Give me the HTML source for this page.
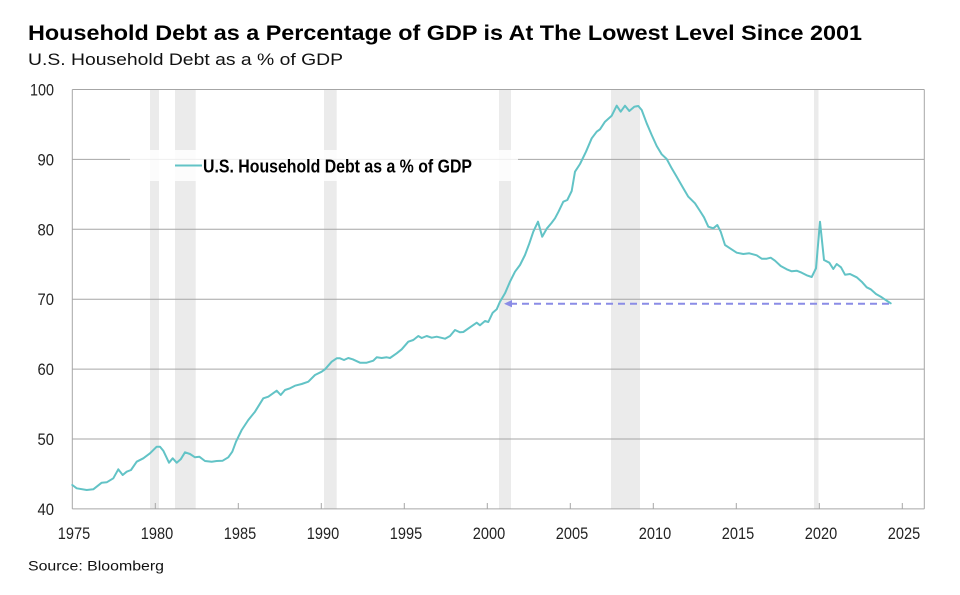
<!DOCTYPE html>
<html>
<head>
<meta charset="utf-8">
<style>
  html, body { margin:0; padding:0; background:#ffffff; }
  body { width:960px; height:595px; overflow:hidden; }
  svg { display:block; }
  .narrow { font-family: "Liberation Sans Narrow", "Liberation Sans", sans-serif; }
  .sans { font-family: "Liberation Sans", Arial, sans-serif; }
</style>
</head>
<body>
<svg width="960" height="595" viewBox="0 0 960 595" xmlns="http://www.w3.org/2000/svg">
  <rect x="0" y="0" width="960" height="595" fill="#ffffff"/>

  <!-- Title -->
  <text class="sans" x="28" y="40" font-size="21" font-weight="bold" fill="#000" textLength="834" lengthAdjust="spacingAndGlyphs">Household Debt as a Percentage of GDP is At The Lowest Level Since 2001</text>
  <text class="sans" x="28" y="65" font-size="17" fill="#111" textLength="315" lengthAdjust="spacingAndGlyphs">U.S. Household Debt as a % of GDP</text>

  <!-- Recession bands -->
  <g fill="#ebebeb">
    <rect x="150" y="90" width="9" height="419"/>
    <rect x="175" y="90" width="20.7" height="419"/>
    <rect x="324" y="90" width="12.7" height="419"/>
    <rect x="499" y="90" width="12" height="419"/>
    <rect x="611" y="90" width="29" height="419"/>
    <rect x="814" y="90" width="4.5" height="419"/>
  </g>

  <!-- Gridlines -->
  <g stroke="#a6a6a6" stroke-width="1" fill="none">
    <line x1="72.3" y1="89.5" x2="924.3" y2="89.5"/>
    <line x1="72.3" y1="159.4" x2="924.3" y2="159.4"/>
    <line x1="72.3" y1="229.3" x2="924.3" y2="229.3"/>
    <line x1="72.3" y1="299.2" x2="924.3" y2="299.2"/>
    <line x1="72.3" y1="369.1" x2="924.3" y2="369.1"/>
    <line x1="72.3" y1="439.0" x2="924.3" y2="439.0"/>
    <line x1="72.3" y1="508.9" x2="924.3" y2="508.9"/>
    <line x1="72.3" y1="89.5" x2="72.3" y2="508.9"/>
    <line x1="924.3" y1="89.5" x2="924.3" y2="508.9"/>
  </g>

  <!-- X ticks -->
  <g stroke="#a6a6a6" stroke-width="1">
    <line x1="155.3" y1="503" x2="155.3" y2="509"/>
    <line x1="238.3" y1="503" x2="238.3" y2="509"/>
    <line x1="321.3" y1="503" x2="321.3" y2="509"/>
    <line x1="404.3" y1="503" x2="404.3" y2="509"/>
    <line x1="487.3" y1="503" x2="487.3" y2="509"/>
    <line x1="570.3" y1="503" x2="570.3" y2="509"/>
    <line x1="653.3" y1="503" x2="653.3" y2="509"/>
    <line x1="736.3" y1="503" x2="736.3" y2="509"/>
    <line x1="819.3" y1="503" x2="819.3" y2="509"/>
    <line x1="902.3" y1="503" x2="902.3" y2="509"/>
  </g>

  <!-- Legend box -->
  <rect x="130" y="150" width="388" height="31" fill="#ffffff" fill-opacity="0.82"/>
  <line x1="175" y1="165.5" x2="202" y2="165.5" stroke="#62c3c6" stroke-width="2"/>
  <text class="narrow" x="203" y="172.3" font-size="18" font-weight="bold" fill="#000" textLength="269" lengthAdjust="spacingAndGlyphs">U.S. Household Debt as a % of GDP</text>

  <!-- Dashed arrow -->
  <line x1="510" y1="303.7" x2="891" y2="303.7" stroke="#8a8ce6" stroke-width="2" stroke-dasharray="7,5"/>
  <polygon points="504,303.7 512,300 512,307.4" fill="#8a8ce6"/>

  <!-- Data line -->
  <polyline fill="none" stroke="#62c3c6" stroke-width="2" stroke-linejoin="round" stroke-linecap="round" points="
    72.3,485 76.7,488.3 86.7,490 93.3,489.3 101.7,482.7 106.7,482.3 113.3,478.3 118.3,469.3 122.7,475 126.7,471.7 131,470
    136.7,461.7 143.3,458.3 150,453.3 156.7,446.7 160,446.7 163.3,450.7 169,462.7 172.7,458.3 176.7,462.7 180.7,459.3
    185,452.3 190,454 195,457.3 199.3,456.7 205,461 211.7,461.7 216.7,461 222.7,460.7 228.3,457.3 232.3,451.7 236,441.7
    241.7,430 248.3,420 255,411.7 263.3,398.3 268.3,396.7 276.7,390.7 280.7,395 285,390 290,388.3 295,385.7 301.7,384
    308.3,381.7 315,375 321.7,371.7 325,369.3 331.7,361.7 336.7,358.3 340,358.3 344,360 348.3,358 352.7,359.3 360,362.7
    366.7,362.7 373.3,360.7 376.7,357.3 381.7,358 386.7,357.3 390,358 396.7,353.3 401.7,349.3 408.3,341.7 413.3,340
    418.3,336 421.7,338 426.7,336 431.7,337.7 436.7,336.7 445,338.7 450,336 455,330 460,332.3 463.3,332 470,327.3
    476.7,322.7 480,325.3 485,321 488.3,322 492.7,312.7 496.7,309.3 500,301.7 505,293.3 510,281.7 515,271.7 520,265
    525,255 529.3,243.5 533.3,231.7 538,221.7 542.2,236.7 546.7,228.7 551.5,223 555,218.3 558.5,211.7 563.3,201.7
    567.3,200 571.7,191 575,171.7 580,164 586,151.7 591.7,138.3 596.7,131.7 600,129.3 605,121.7 611.7,115.7 616.7,105.7
    620.7,111.7 625,105.7 629.3,111 634.3,106.7 638.3,106 641.7,110 646.7,123.3 651.7,135 656.7,146 661.7,154.3
    666.7,159 671.7,168.3 676.7,176.7 683.3,188.3 688.3,196.7 695,203.3 700,211 704,217.3 708.3,226.7 713.3,228.3
    717.3,225 720.7,231.7 725,245 730,248.3 736.7,252.7 743.3,254 749.3,253.3 756.7,255.3 761.7,258.7 766.7,258.7
    770.7,257.7 775,260.7 780.7,266 786.7,269.3 791.7,271.3 796.7,270.7 801.7,272.7 806.7,275.3 811.7,277 816,268.3
    820,221.7 824,260 829.3,262.7 833.3,269 836.7,264 841,267.3 845,274.7 850,274 856.7,277.3 861.7,281.7 866.7,287.3
    870.7,289.3 876,294 881.7,297.3 886.7,300.7 890.7,303.3"/>

  <!-- Y labels -->
  <g class="narrow" font-size="17" fill="#222" text-anchor="end">
    <text x="54" y="95.5" textLength="24" lengthAdjust="spacingAndGlyphs">100</text>
    <text x="54" y="165.4" textLength="16.5" lengthAdjust="spacingAndGlyphs">90</text>
    <text x="54" y="235.3" textLength="16.5" lengthAdjust="spacingAndGlyphs">80</text>
    <text x="54" y="305.2" textLength="16.5" lengthAdjust="spacingAndGlyphs">70</text>
    <text x="54" y="375.1" textLength="16.5" lengthAdjust="spacingAndGlyphs">60</text>
    <text x="54" y="445" textLength="16.5" lengthAdjust="spacingAndGlyphs">50</text>
    <text x="54" y="514.9" textLength="16.5" lengthAdjust="spacingAndGlyphs">40</text>
  </g>

  <!-- X labels -->
  <g class="narrow" font-size="17" fill="#222">
    <text x="57.8" y="539" textLength="32.4" lengthAdjust="spacingAndGlyphs">1975</text>
    <text x="140.8" y="539" textLength="32.4" lengthAdjust="spacingAndGlyphs">1980</text>
    <text x="223.8" y="539" textLength="32.4" lengthAdjust="spacingAndGlyphs">1985</text>
    <text x="306.8" y="539" textLength="32.4" lengthAdjust="spacingAndGlyphs">1990</text>
    <text x="389.8" y="539" textLength="32.4" lengthAdjust="spacingAndGlyphs">1995</text>
    <text x="472.8" y="539" textLength="32.4" lengthAdjust="spacingAndGlyphs">2000</text>
    <text x="555.8" y="539" textLength="32.4" lengthAdjust="spacingAndGlyphs">2005</text>
    <text x="638.8" y="539" textLength="32.4" lengthAdjust="spacingAndGlyphs">2010</text>
    <text x="721.8" y="539" textLength="32.4" lengthAdjust="spacingAndGlyphs">2015</text>
    <text x="804.8" y="539" textLength="32.4" lengthAdjust="spacingAndGlyphs">2020</text>
    <text x="887.8" y="539" textLength="32.4" lengthAdjust="spacingAndGlyphs">2025</text>
  </g>

  <!-- Source -->
  <text class="sans" x="28" y="570.5" font-size="14" fill="#111" textLength="136" lengthAdjust="spacingAndGlyphs">Source: Bloomberg</text>
</svg>
</body>
</html>
